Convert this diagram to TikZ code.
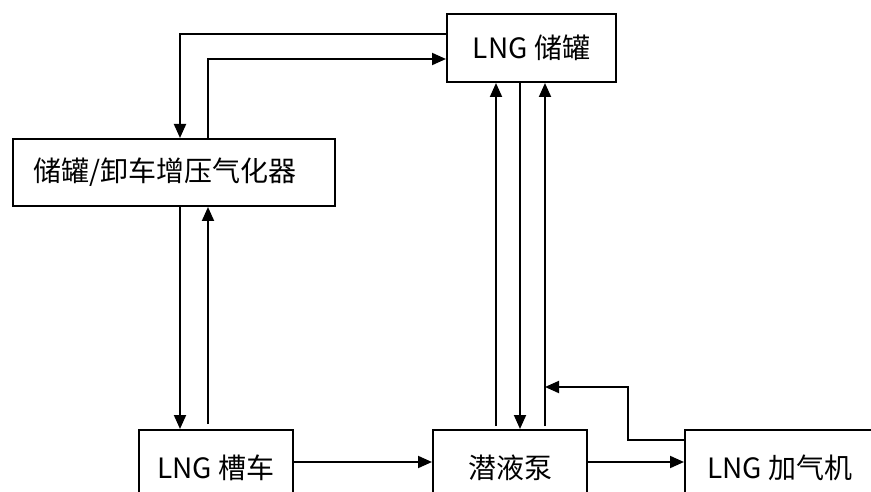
\documentclass[tikz,border=0pt]{standalone}
\usepackage{fontspec}
\setmainfont{Noto Sans CJK SC}
\usetikzlibrary{calc,arrows.meta}
\tikzset{
  box/.style={draw, line width=2pt, inner sep=0pt, font=\fontsize{28}{30}\selectfont},
  arr/.style={line width=1.9pt, -{Triangle[length=14pt,width=12pt]}},
  ln/.style={line width=1.9pt}
}
\begin{document}
\begin{tikzpicture}[x=1pt,y=-1pt]
\useasboundingbox (0,0) rectangle (871,492);
\clip (0,0) rectangle (871,492);
\fill[white] (0,0) rectangle (871,492);
\node[box, minimum width=169pt, minimum height=68pt] (tank) at (531.5,48) {LNG 储罐};
\node[box, minimum height=67pt, text width=280pt, inner xsep=21pt, align=left] (vap) at (174,172.5) {储罐/卸车增压气化器};
\node[box, minimum width=154pt, minimum height=76pt] (truck) at (216,468) {LNG 槽车};
\node[box, minimum width=154pt, minimum height=76pt] (pump) at (510,468) {潜液泵};
\node[box, minimum width=190pt, minimum height=76pt] (disp) at (780,468) {LNG 加气机};
% storage <-> vaporizer
\draw[arr] ($(tank.north west)+(0,21)$) -| ($(vap.north west)+(168,0)$);
\draw[arr] ($(vap.north west)+(196,0)$) |- ($(tank.north west)+(0,46)$);
% vaporizer <-> truck
\draw[arr] ($(vap.south west)+(168,0)$) -- ($(truck.north west)+(42,0)$);
\draw[arr] ($(truck.north west)+(70,-5)$) -- ($(vap.south west)+(196,0)$);
% truck -> pump -> dispenser
\draw[arr] ($(truck.east)+(0,-6)$) -- ($(pump.west)+(0,-6)$);
\draw[arr] ($(pump.east)+(0,-6)$) -- ($(disp.west)+(0,-6)$);
% pump <-> storage
\draw[arr] ($(pump.north west)+(64,-3)$) -- ($(tank.south west)+(50,0)$);
\draw[arr] ($(tank.south west)+(74,0)$) -- ($(pump.north west)+(88,0)$);
\draw[arr] ($(pump.north west)+(113,-3)$) -- ($(tank.south west)+(99,0)$);
% dispenser return
\coordinate (ret) at ($(pump.north west)+(113,-42)$);
\draw[arr] ($(disp.north west)+(0,11)$) -- ++(-56,0) |- (ret);
\end{tikzpicture}
\end{document}
